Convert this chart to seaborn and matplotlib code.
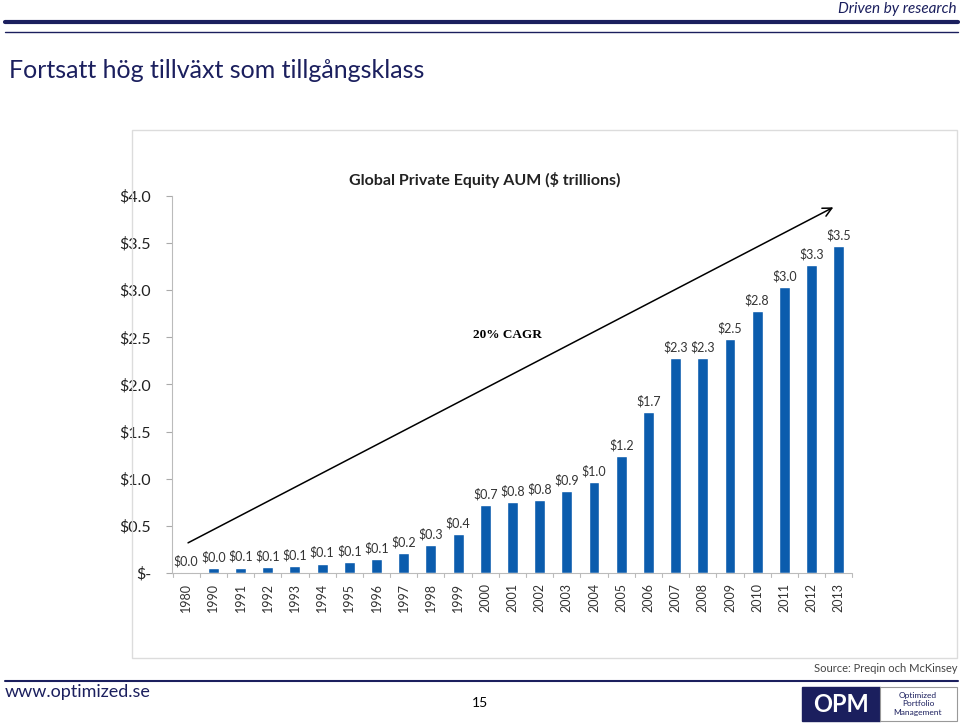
import matplotlib
matplotlib.use("Agg")
import matplotlib.pyplot as plt
from matplotlib.patches import Rectangle
from matplotlib.lines import Line2D
import pandas as pd
import seaborn as sb

# data ($ trillions)
years = ['1980'] + [str(y) for y in range(1990, 2014)]
aum = [0.01, 0.053, 0.057, 0.064, 0.074, 0.10, 0.117, 0.149, 0.209, 0.297, 0.414,
       0.718, 0.753, 0.771, 0.867, 0.962, 1.241, 1.705, 2.278, 2.278, 2.48, 2.776,
       3.035, 3.27, 3.466]
bar_labels = ['$0.0', '$0.0', '$0.1', '$0.1', '$0.1', '$0.1', '$0.1', '$0.1', '$0.2', '$0.3', '$0.4',
              '$0.7', '$0.8', '$0.8', '$0.9', '$1.0', '$1.2', '$1.7', '$2.3', '$2.3', '$2.5', '$2.8',
              '$3.0', '$3.3', '$3.5']
yticks = [0, 0.5, 1.0, 1.5, 2.0, 2.5, 3.0, 3.5, 4.0]
ytick_labels = ['$-', '$0.5', '$1.0', '$1.5', '$2.0', '$2.5', '$3.0', '$3.5', '$4.0']

df = pd.DataFrame({'year': years, 'aum': aum})

sb.set_style('white')
plt.rcParams['font.family'] = ['Lato', 'DejaVu Sans']

W, H = 960, 725
navy = '#1b1f5e'
fig = plt.figure(figsize=(9.6, 7.25), dpi=100)


def fx(x):
    return x / W


def fy(y):
    return 1 - y / H


# slide header
fig.text(fx(957), fy(9), 'Driven by research', ha='right', va='center', style='italic',
         fontsize=11, color=navy)
fig.add_artist(Line2D([fx(5), fx(958)], [fy(22), fy(22)], color=navy, lw=3))
fig.add_artist(Line2D([fx(5), fx(958)], [fy(32), fy(32)], color=navy, lw=1))
fig.text(fx(9), fy(70), 'Fortsatt hög tillväxt som tillgångsklass', ha='left', va='center',
         fontsize=18, color=navy)

# picture frame
fig.add_artist(Rectangle((fx(132), fy(658)), fx(957) - fx(132), fy(130) - fy(658),
                         transform=fig.transFigure, fill=False, edgecolor='#dcdcdc', lw=1))

ax = fig.add_axes([fx(172), fy(573), fx(851) - fx(172), fy(196) - fy(573)])
sb.barplot(data=df, x='year', y='aum', color='#0b5cad', width=0.4, saturation=1, ax=ax)
ax.set_xlim(-0.52, 24.45)
ax.set_ylim(0, 4.0)
ax.set_xlabel('')
ax.set_ylabel('')
ax.set_yticks(yticks)
ax.set_yticklabels(ytick_labels, fontsize=11.5, color='#222222')
ax.set_xticks(range(len(years)))
ax.set_xticklabels(years, rotation=90, fontsize=9, color='#333333')
ax.tick_params(axis='x', length=0, pad=7)
ax.tick_params(axis='y', length=4, color='#aaaaaa', left=True, pad=11)
for s in ['top', 'right']:
    ax.spines[s].set_visible(False)
ax.spines['left'].set_color('#bbbbbb')
ax.spines['bottom'].set_color('#bbbbbb')
# category separator ticks on the x axis
for i in range(len(years) + 1):
    ax.plot([i - 0.5, i - 0.5], [0, -0.04], color='#bbbbbb', lw=0.8, clip_on=False)

for i, (v, lab) in enumerate(zip(aum, bar_labels)):
    ax.text(i, v + 0.05, lab, ha='center', va='bottom', fontsize=9, color='#333333')

ax.set_title('Global Private Equity AUM ($ trillions)', fontsize=11.5, fontweight='bold',
             color='#222222', pad=8, x=0.46)
ax.annotate('', xy=(23.8, 3.88), xytext=(0.07, 0.32),
            arrowprops=dict(arrowstyle='->', color='black', lw=1.1, mutation_scale=16,
                            shrinkA=0, shrinkB=0))
ax.text(11.8, 2.525, '20% CAGR', ha='center', va='center', fontsize=9.5, fontweight='bold',
        family='Liberation Serif', color='black')

# footer
fig.text(fx(957), fy(668), 'Source: Preqin och McKinsey', ha='right', va='center',
         fontsize=8, color='#444444')
fig.add_artist(Line2D([fx(5), fx(958)], [fy(681), fy(681)], color=navy, lw=1.5))
fig.text(fx(5), fy(692), 'www.optimized.se', ha='left', va='center', fontsize=13, color=navy)
fig.text(fx(480), fy(703), '15', ha='center', va='center', fontsize=10, color='black')
fig.add_artist(Rectangle((fx(802), fy(721)), fx(880) - fx(802), fy(687) - fy(721),
                         transform=fig.transFigure, facecolor=navy, edgecolor=navy))
fig.add_artist(Rectangle((fx(880), fy(721)), fx(957) - fx(880), fy(687) - fy(721),
                         transform=fig.transFigure, facecolor='white', edgecolor='#999999', lw=0.8))
fig.text(fx(841), fy(705), 'OPM', ha='center', va='center', fontsize=17, fontweight='bold',
         color='white')
fig.text(fx(918), fy(704), 'Optimized\nPortfolio\nManagement', ha='center', va='center',
         fontsize=6, color=navy, linespacing=1.2)

fig.savefig('out.png', dpi=100)
